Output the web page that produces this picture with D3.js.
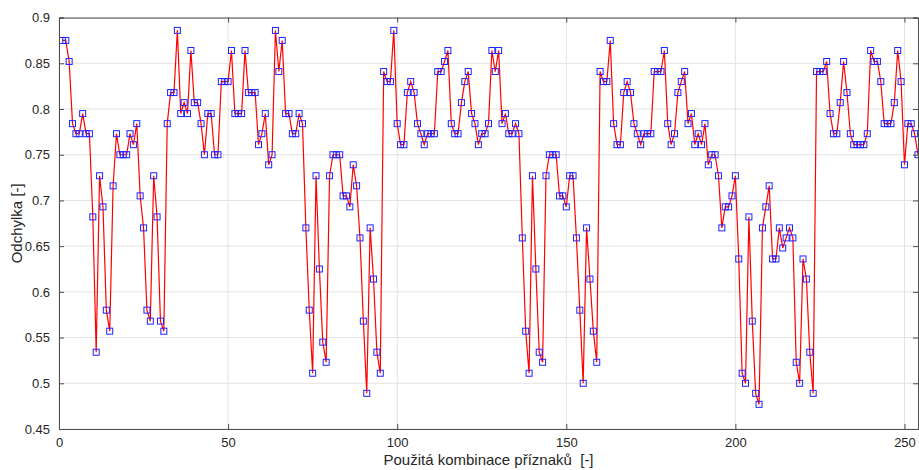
<!DOCTYPE html>
<html><head><meta charset="utf-8">
<script src="https://cdn.jsdelivr.net/npm/d3@7"></script>
<style>body{margin:0;background:#fff}svg{display:block}text{font-family:"Liberation Sans",Arial,sans-serif;fill:#262626}</style>
</head><body><svg id="c" width="919" height="470"></svg>
<script>
const values = [
0.875,0.875,0.852,0.784,0.773,0.773,0.795,0.773,0.773,0.682,
0.534,0.727,0.693,0.580,0.557,0.716,0.773,0.750,0.750,0.750,
0.773,0.761,0.784,0.705,0.670,0.580,0.568,0.727,0.682,0.568,
0.557,0.784,0.818,0.818,0.886,0.795,0.807,0.795,0.864,0.807,
0.807,0.784,0.750,0.795,0.795,0.750,0.750,0.830,0.830,0.830,
0.864,0.795,0.795,0.795,0.864,0.818,0.818,0.818,0.761,0.773,
0.795,0.739,0.750,0.886,0.841,0.875,0.795,0.795,0.773,0.773,
0.795,0.784,0.670,0.580,0.511,0.727,0.625,0.545,0.523,0.727,
0.750,0.750,0.750,0.705,0.705,0.693,0.739,0.716,0.659,0.568,
0.489,0.670,0.614,0.534,0.511,0.841,0.830,0.830,0.886,0.784,
0.761,0.761,0.818,0.830,0.818,0.784,0.773,0.761,0.773,0.773,
0.773,0.841,0.841,0.852,0.864,0.784,0.773,0.773,0.807,0.830,
0.841,0.795,0.784,0.761,0.773,0.773,0.784,0.864,0.841,0.864,
0.784,0.795,0.773,0.773,0.784,0.773,0.659,0.557,0.511,0.727,
0.625,0.534,0.523,0.727,0.750,0.750,0.750,0.705,0.705,0.693,
0.727,0.727,0.659,0.580,0.500,0.670,0.614,0.557,0.523,0.841,
0.830,0.830,0.875,0.784,0.761,0.761,0.818,0.830,0.818,0.784,
0.773,0.761,0.773,0.773,0.773,0.841,0.841,0.841,0.864,0.784,
0.761,0.773,0.818,0.830,0.841,0.784,0.795,0.761,0.773,0.761,
0.784,0.739,0.750,0.750,0.727,0.670,0.693,0.693,0.705,0.727,
0.636,0.511,0.500,0.682,0.568,0.489,0.477,0.670,0.693,0.716,
0.636,0.636,0.670,0.648,0.659,0.670,0.659,0.523,0.500,0.636,
0.614,0.534,0.489,0.841,0.841,0.841,0.852,0.795,0.773,0.773,
0.807,0.852,0.818,0.773,0.761,0.761,0.761,0.761,0.773,0.864,
0.852,0.852,0.830,0.784,0.784,0.784,0.807,0.864,0.830,0.739,
0.784,0.784,0.773,0.750
];
const xTicks = [0,50,100,150,200,250];
const yTicks = [0.45,0.5,0.55,0.6,0.65,0.7,0.75,0.8,0.85,0.9];
const xLabel = "Použitá kombinace příznaků  [-]";
const yLabel = "Odchylka [-]";

const svg = d3.select("#c");
const L=59, R=918, T=17.6, B=429;
const x = d3.scaleLinear().domain([0,254]).range([L,R]);
const y = d3.scaleLinear().domain([0.45,0.9]).range([B,T]);
const data = values.map((v,i)=>({i:i+1,v}));

// grid
svg.append("g").selectAll("line").data(yTicks).join("line")
  .attr("x1",L).attr("x2",R).attr("y1",d=>y(d)).attr("y2",d=>y(d))
  .attr("stroke","#e3e3e3").attr("stroke-width",1);
svg.append("g").selectAll("line").data(xTicks).join("line")
  .attr("y1",T).attr("y2",B).attr("x1",d=>x(d)).attr("x2",d=>x(d))
  .attr("stroke","#e3e3e3").attr("stroke-width",1);

svg.append("clipPath").attr("id","clp").append("rect")
  .attr("x",L).attr("y",T).attr("width",R-L).attr("height",B-T);

const g = svg.append("g").attr("clip-path","url(#clp)");
g.append("path").datum(data)
  .attr("d",d3.line().x(d=>x(d.i)).y(d=>y(d.v)))
  .attr("fill","none").attr("stroke","#ff0000").attr("stroke-width",1.2);
g.selectAll("rect").data(data).join("rect")
  .attr("x",d=>x(d.i)-3).attr("y",d=>y(d.v)-3).attr("width",6).attr("height",6)
  .attr("fill","none").attr("stroke","#2020ff").attr("stroke-width",1);

// axes
const ax = svg.append("g").attr("transform",`translate(0,${B})`)
  .call(d3.axisBottom(x).tickValues(xTicks).tickSize(-5).tickPadding(9).tickFormat(d3.format("d")));
const axT = svg.append("g").attr("transform",`translate(0,${T})`)
  .call(d3.axisTop(x).tickValues(xTicks).tickSize(-5).tickFormat(""));
const ay = svg.append("g").attr("transform",`translate(${L},0)`)
  .call(d3.axisLeft(y).tickValues(yTicks).tickSize(-5).tickPadding(9).tickFormat(d=>d3.format("")(+d.toFixed(2))));
const ayR = svg.append("g").attr("transform",`translate(${R},0)`)
  .call(d3.axisRight(y).tickValues(yTicks).tickSize(-5).tickFormat(""));
[ax,axT,ay,ayR].forEach(a=>{
  a.select(".domain").attr("stroke","#4d4d4d").attr("stroke-width",1);
  a.selectAll(".tick line").attr("stroke","#4d4d4d");
  a.selectAll("text").attr("font-size",13).attr("fill","#262626").style("font-family","'Liberation Sans',Arial,sans-serif");
});

svg.append("text").attr("x",(L+R)/2).attr("y",465).attr("text-anchor","middle")
  .attr("font-size",15).style("white-space","pre").text(xLabel);
svg.append("text").attr("transform",`translate(22,${(T+B)/2}) rotate(-90)`)
  .attr("text-anchor","middle").attr("font-size",15).text(yLabel);
</script></body></html>
